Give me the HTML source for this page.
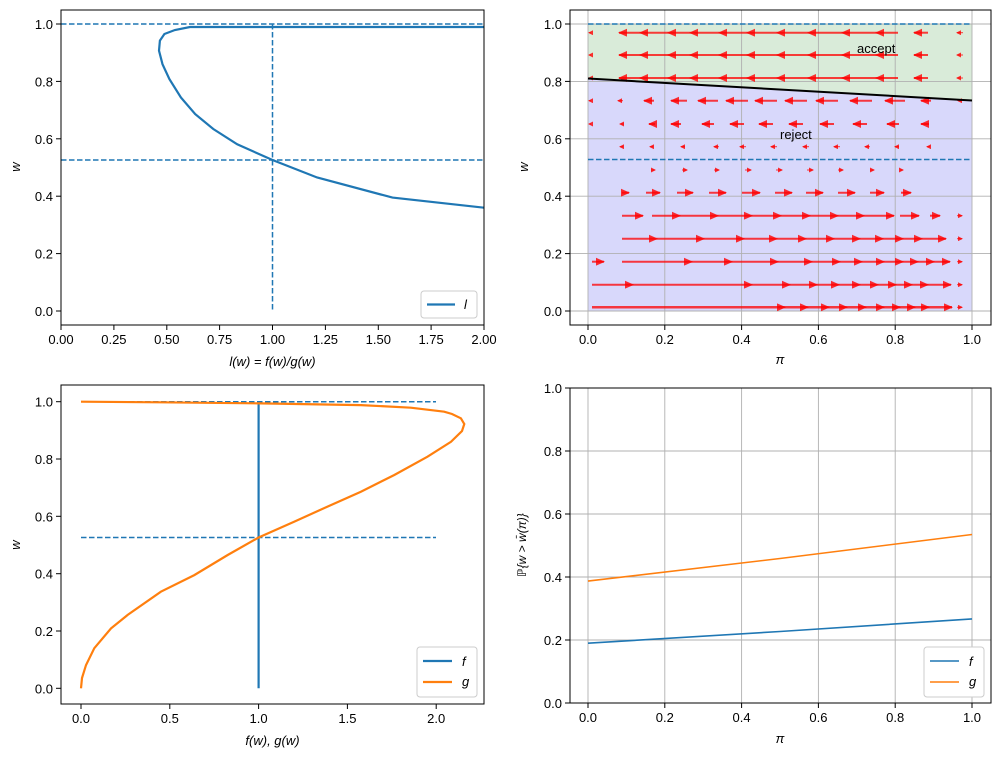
<!DOCTYPE html>
<html><head><meta charset="utf-8"><style>
body{margin:0;background:#fff}
svg{display:block;font-family:"Liberation Sans","DejaVu Sans",sans-serif;font-size:13px}
</style></head><body>
<svg width="1001" height="760" viewBox="0 0 1001 760" xmlns="http://www.w3.org/2000/svg">
<defs>
<marker id="h" markerUnits="userSpaceOnUse" markerWidth="9" markerHeight="8" refX="8" refY="4" orient="auto"><path d="M0,0 L9,4 L0,8 z" fill="rgba(255,0,0,0.8)"/></marker>
<marker id="hs" markerUnits="userSpaceOnUse" markerWidth="5" markerHeight="5" refX="4" refY="2.5" orient="auto"><path d="M0,0 L5,2.5 L0,5 z" fill="rgba(255,0,0,0.8)"/></marker>
<clipPath id="c1"><rect x="61" y="10" width="423" height="315"/></clipPath>
</defs>

<!-- ============ TOP LEFT ============ -->
<g clip-path="url(#c1)">
<line x1="61" y1="24" x2="484" y2="24" stroke="#1f77b4" stroke-width="1.5" stroke-dasharray="5.5,2.5"/>
<line x1="61" y1="160" x2="484" y2="160" stroke="#1f77b4" stroke-width="1.5" stroke-dasharray="5.5,2.5"/>
<line x1="272.5" y1="24" x2="272.5" y2="311" stroke="#1f77b4" stroke-width="1.5" stroke-dasharray="5.5,2.5"/>
<polyline fill="none" stroke="#1f77b4" stroke-width="2.2" points="484,207.7 392.5,197.6 317.1,177.5 272.5,160 237.2,144.3 213.3,129 195.2,114.1 180.9,97.5 169.4,79.1 162.5,64.2 159,50.7 159.9,40.6 164.4,34 174.9,30 190,27 484,27"/>
</g>
<rect x="61" y="10" width="423" height="315" fill="none" stroke="#000" stroke-width="1"/>
<g stroke="#000">
<line x1="61" y1="325" x2="61" y2="330"/><line x1="113.9" y1="325" x2="113.9" y2="330"/><line x1="166.8" y1="325" x2="166.8" y2="330"/><line x1="219.6" y1="325" x2="219.6" y2="330"/><line x1="272.5" y1="325" x2="272.5" y2="330"/><line x1="325.4" y1="325" x2="325.4" y2="330"/><line x1="378.3" y1="325" x2="378.3" y2="330"/><line x1="431.1" y1="325" x2="431.1" y2="330"/><line x1="484" y1="325" x2="484" y2="330"/>
<line x1="56" y1="311" x2="61" y2="311"/><line x1="56" y1="253.6" x2="61" y2="253.6"/><line x1="56" y1="196.2" x2="61" y2="196.2"/><line x1="56" y1="138.8" x2="61" y2="138.8"/><line x1="56" y1="81.4" x2="61" y2="81.4"/><line x1="56" y1="24" x2="61" y2="24"/>
</g>
<g text-anchor="middle">
<text x="61" y="344">0.00</text><text x="113.9" y="344">0.25</text><text x="166.8" y="344">0.50</text><text x="219.6" y="344">0.75</text><text x="272.5" y="344">1.00</text><text x="325.4" y="344">1.25</text><text x="378.3" y="344">1.50</text><text x="431.1" y="344">1.75</text><text x="484" y="344">2.00</text>
</g>
<g text-anchor="end">
<text x="53" y="316">0.0</text><text x="53" y="258.6">0.2</text><text x="53" y="201.2">0.4</text><text x="53" y="143.8">0.6</text><text x="53" y="86.4">0.8</text><text x="53" y="29">1.0</text>
</g>
<text x="272.5" y="366" text-anchor="middle" font-style="italic">l(w) = f(w)/g(w)</text>
<text x="20" y="167" text-anchor="middle" font-style="italic" transform="rotate(-90 20 167)">w</text>
<rect x="421" y="291" width="56" height="27" rx="3" fill="#fff" stroke="#ccc"/>
<line x1="427" y1="304.5" x2="455" y2="304.5" stroke="#1f77b4" stroke-width="2.2"/>
<text x="464" y="309" font-style="italic">l</text>

<!-- ============ TOP RIGHT ============ -->
<polygon points="588,24 972,24 972,100.5 588,79" fill="#d9ebd9"/>
<polygon points="588,79 972,100.5 972,311 588,311" fill="#d8d8fb"/>
<g stroke="#b0b0b0" stroke-width="0.9">
<line x1="588" y1="10" x2="588" y2="325"/><line x1="664.8" y1="10" x2="664.8" y2="325"/><line x1="741.6" y1="10" x2="741.6" y2="325"/><line x1="818.4" y1="10" x2="818.4" y2="325"/><line x1="895.2" y1="10" x2="895.2" y2="325"/><line x1="972" y1="10" x2="972" y2="325"/>
<line x1="570" y1="311" x2="991" y2="311"/><line x1="570" y1="253.6" x2="991" y2="253.6"/><line x1="570" y1="196.2" x2="991" y2="196.2"/><line x1="570" y1="138.8" x2="991" y2="138.8"/><line x1="570" y1="81.4" x2="991" y2="81.4"/><line x1="570" y1="24" x2="991" y2="24"/>
</g>
<line x1="588" y1="24" x2="972" y2="24" stroke="#1f77b4" stroke-width="1.5" stroke-dasharray="5.5,2.5"/>
<line x1="588" y1="159.5" x2="972" y2="159.5" stroke="#1f77b4" stroke-width="1.5" stroke-dasharray="5.5,2.5"/>
<g fill="none" stroke="rgba(255,0,0,0.75)" stroke-width="2" marker-mid="url(#h)" marker-end="url(#h)">
<path d="M898 32.7 L876 32.7 L842 32.7 L808 32.7 L777 32.7 L747 32.7 L719 32.7 L690 32.7 L668 32.7 L640 32.7 L619 32.7"/>
<path d="M928 32.7 L914 32.7"/>
<path d="M898 55 L876 55 L842 55 L808 55 L777 55 L747 55 L719 55 L690 55 L668 55 L640 55 L619 55"/>
<path d="M928 55 L914 55"/>
<path d="M898 78 L876 78 L842 78 L808 78 L777 78 L747 78 L719 78 L690 78 L668 78 L640 78 L619 78"/>
<path d="M928 78 L914 78"/>
<path d="M654 100.7 L644 100.7"/><path d="M687 100.7 L671 100.7"/><path d="M718 100.7 L698 100.7"/><path d="M748 100.7 L726 100.7"/><path d="M777 100.7 L755 100.7"/><path d="M807 100.7 L785 100.7"/><path d="M838 100.7 L816 100.7"/><path d="M872 100.7 L850 100.7"/><path d="M905 100.7 L885 100.7"/><path d="M931 100.7 L921 100.7"/>
<path d="M681 124 L671 124"/><path d="M714 124 L702 124"/><path d="M744 124 L730 124"/><path d="M773 124 L759 124"/><path d="M803 124 L789 124"/><path d="M834 124 L820 124"/><path d="M867 124 L853 124"/><path d="M899 124 L887 124"/><path d="M929 124 L921 124"/><path d="M655 124 L649 124"/>
<path d="M646 192.7 L660 192.7"/><path d="M677 192.7 L693 192.7"/><path d="M709 192.7 L726 192.7"/><path d="M742 192.7 L760 192.7"/><path d="M775 192.7 L792 192.7"/><path d="M806 192.7 L823 192.7"/><path d="M838 192.7 L855 192.7"/><path d="M870 192.7 L884 192.7"/><path d="M901 192.7 L911 192.7"/><path d="M622 192.7 L629 192.7"/>
<path d="M622 215.7 L643 215.7"/><path d="M652 215.7 L680 215.7 L718 215.7 L752 215.7 L781 215.7 L810 215.7 L838 215.7 L864 215.7 L894 215.7"/><path d="M900 215.7 L919 215.7"/><path d="M930 215.7 L940 215.7"/>
<path d="M622 238.7 L657 238.7 L704 238.7 L744 238.7 L777 238.7 L806 238.7 L834 238.7 L860 238.7 L883 238.7 L903 238.7 L922 238.7 L946 238.7"/>
<path d="M592 261.7 L604 261.7"/>
<path d="M622 261.7 L692 261.7 L732 261.7 L778 261.7 L812 261.7 L840 261.7 L862 261.7 L884 261.7 L903 261.7 L918 261.7 L934 261.7 L950 261.7"/>
<path d="M592 284.7 L633 284.7 L752 284.7 L790 284.7 L817 284.7 L839 284.7 L860 284.7 L878 284.7 L896 284.7 L912 284.7 L928 284.7 L951 284.7"/>
<path d="M592 307.3 L785 307.3 L808 307.3 L829 307.3 L847 307.3 L866 307.3 L884 307.3 L900 307.3 L915 307.3 L929 307.3 L952 307.3" stroke-width="2.5"/>
</g>
<g fill="none" stroke="rgba(255,0,0,0.75)" stroke-width="1" marker-end="url(#hs)">
<path d="M591 32.7 L589 32.7"/><path d="M963 32.7 L957 32.7"/><path d="M591 55 L589 55"/><path d="M963 55 L957 55"/><path d="M591 78 L589 78"/><path d="M963 78 L957 78"/>
<path d="M591 100.7 L589 100.7"/><path d="M623 100.7 L618 100.7"/><path d="M962 100.7 L958 100.7"/>
<path d="M591 124 L589 124"/><path d="M624 124 L620 124"/>
<path d="M623 146.7 L620 146.7"/><path d="M653 146.7 L650 146.7"/><path d="M685 146.7 L681 146.7"/><path d="M719 146.7 L714 146.7"/><path d="M746 146.7 L740 146.7"/><path d="M777 146.7 L771 146.7"/><path d="M809 146.7 L803 146.7"/><path d="M840 146.7 L834 146.7"/><path d="M870 146.7 L865 146.7"/><path d="M899 146.7 L895 146.7"/><path d="M930 146.7 L927 146.7"/>
<path d="M682 170 L687 170"/><path d="M714 170 L719 170"/><path d="M745 170 L751 170"/><path d="M776 170 L782 170"/><path d="M807 170 L813 170"/><path d="M838 170 L843 170"/><path d="M870 170 L874 170"/><path d="M900 170 L903 170"/><path d="M651 170 L655 170"/>
<path d="M957 215.7 L962 215.7"/><path d="M957 238.7 L962 238.7"/><path d="M957 261.7 L962 261.7"/><path d="M957 284.7 L962 284.7"/><path d="M957 307.3 L962 307.3"/>
</g>
<line x1="588" y1="78.5" x2="972" y2="100.5" stroke="#000" stroke-width="2"/>
<text x="857" y="53">accept</text>
<text x="780" y="139">reject</text>
<rect x="570" y="10" width="421" height="315" fill="none" stroke="#000" stroke-width="1"/>
<g stroke="#000">
<line x1="588" y1="325" x2="588" y2="330"/><line x1="664.8" y1="325" x2="664.8" y2="330"/><line x1="741.6" y1="325" x2="741.6" y2="330"/><line x1="818.4" y1="325" x2="818.4" y2="330"/><line x1="895.2" y1="325" x2="895.2" y2="330"/><line x1="972" y1="325" x2="972" y2="330"/>
<line x1="565" y1="311" x2="570" y2="311"/><line x1="565" y1="253.6" x2="570" y2="253.6"/><line x1="565" y1="196.2" x2="570" y2="196.2"/><line x1="565" y1="138.8" x2="570" y2="138.8"/><line x1="565" y1="81.4" x2="570" y2="81.4"/><line x1="565" y1="24" x2="570" y2="24"/>
</g>
<g text-anchor="middle">
<text x="588" y="344">0.0</text><text x="664.8" y="344">0.2</text><text x="741.6" y="344">0.4</text><text x="818.4" y="344">0.6</text><text x="895.2" y="344">0.8</text><text x="972" y="344">1.0</text>
</g>
<g text-anchor="end">
<text x="562" y="316">0.0</text><text x="562" y="258.6">0.2</text><text x="562" y="201.2">0.4</text><text x="562" y="143.8">0.6</text><text x="562" y="86.4">0.8</text><text x="562" y="29">1.0</text>
</g>
<text x="780" y="364" text-anchor="middle" font-style="italic">π</text>
<text x="528" y="167" text-anchor="middle" font-style="italic" transform="rotate(-90 528 167)">w</text>

<!-- ============ BOTTOM LEFT ============ -->
<line x1="81" y1="401.7" x2="436" y2="401.7" stroke="#1f77b4" stroke-width="1.5" stroke-dasharray="5.5,2.5"/>
<line x1="81" y1="537.5" x2="436" y2="537.5" stroke="#1f77b4" stroke-width="1.5" stroke-dasharray="5.5,2.5"/>
<line x1="258.6" y1="688.3" x2="258.6" y2="403.5" stroke="#1f77b4" stroke-width="2.2"/>
<polyline fill="none" stroke="#ff7f0e" stroke-width="2.2" points="81,688.3 82,678 86,665.1 94.3,648.2 111,628.4 127.7,614.9 160.9,591.7 194.3,575.1 227.7,555 258.6,537.5 294.1,521.8 327.5,506.6 360.9,491.7 394.3,475 427.5,456.7 451,441.8 462,431 464.3,424 460.9,418.3 452,414 444.2,411.7 410.8,407.7 360.9,405.1 260.9,403.4 160.9,402.3 81,401.7"/>
<rect x="61" y="385" width="423" height="319" fill="none" stroke="#000" stroke-width="1"/>
<g stroke="#000">
<line x1="81" y1="704" x2="81" y2="709"/><line x1="169.8" y1="704" x2="169.8" y2="709"/><line x1="258.6" y1="704" x2="258.6" y2="709"/><line x1="347.4" y1="704" x2="347.4" y2="709"/><line x1="436.2" y1="704" x2="436.2" y2="709"/>
<line x1="56" y1="688.3" x2="61" y2="688.3"/><line x1="56" y1="631" x2="61" y2="631"/><line x1="56" y1="573.7" x2="61" y2="573.7"/><line x1="56" y1="516.3" x2="61" y2="516.3"/><line x1="56" y1="459" x2="61" y2="459"/><line x1="56" y1="401.7" x2="61" y2="401.7"/>
</g>
<g text-anchor="middle">
<text x="81" y="723">0.0</text><text x="169.8" y="723">0.5</text><text x="258.6" y="723">1.0</text><text x="347.4" y="723">1.5</text><text x="436.2" y="723">2.0</text>
</g>
<g text-anchor="end">
<text x="53" y="693.3">0.0</text><text x="53" y="636">0.2</text><text x="53" y="578.7">0.4</text><text x="53" y="521.3">0.6</text><text x="53" y="464">0.8</text><text x="53" y="406.7">1.0</text>
</g>
<text x="272.5" y="745" text-anchor="middle" font-style="italic">f(w), g(w)</text>
<text x="20" y="545" text-anchor="middle" font-style="italic" transform="rotate(-90 20 545)">w</text>
<rect x="417" y="647" width="60" height="50" rx="3" fill="#fff" stroke="#ccc"/>
<line x1="423" y1="661" x2="452" y2="661" stroke="#1f77b4" stroke-width="2.2"/>
<text x="462" y="666" font-style="italic">f</text>
<line x1="423" y1="682" x2="452" y2="682" stroke="#ff7f0e" stroke-width="2.2"/>
<text x="462" y="686" font-style="italic">g</text>

<!-- ============ BOTTOM RIGHT ============ -->
<g stroke="#b0b0b0" stroke-width="0.9">
<line x1="588" y1="388" x2="588" y2="703"/><line x1="664.8" y1="388" x2="664.8" y2="703"/><line x1="741.6" y1="388" x2="741.6" y2="703"/><line x1="818.4" y1="388" x2="818.4" y2="703"/><line x1="895.2" y1="388" x2="895.2" y2="703"/><line x1="972" y1="388" x2="972" y2="703"/>
<line x1="570" y1="640" x2="991" y2="640"/><line x1="570" y1="577" x2="991" y2="577"/><line x1="570" y1="514" x2="991" y2="514"/><line x1="570" y1="451" x2="991" y2="451"/>
</g>
<polyline fill="none" stroke="#1f77b4" stroke-width="1.6" points="588,643.2 780,631.5 972,618.9"/>
<polyline fill="none" stroke="#ff7f0e" stroke-width="1.6" points="588,581.1 780,558.5 972,534.5"/>
<rect x="570" y="388" width="421" height="315" fill="none" stroke="#000" stroke-width="1"/>
<g stroke="#000">
<line x1="588" y1="703" x2="588" y2="708"/><line x1="664.8" y1="703" x2="664.8" y2="708"/><line x1="741.6" y1="703" x2="741.6" y2="708"/><line x1="818.4" y1="703" x2="818.4" y2="708"/><line x1="895.2" y1="703" x2="895.2" y2="708"/><line x1="972" y1="703" x2="972" y2="708"/>
<line x1="565" y1="703" x2="570" y2="703"/><line x1="565" y1="640" x2="570" y2="640"/><line x1="565" y1="577" x2="570" y2="577"/><line x1="565" y1="514" x2="570" y2="514"/><line x1="565" y1="451" x2="570" y2="451"/><line x1="565" y1="388" x2="570" y2="388"/>
</g>
<g text-anchor="middle">
<text x="588" y="722">0.0</text><text x="664.8" y="722">0.2</text><text x="741.6" y="722">0.4</text><text x="818.4" y="722">0.6</text><text x="895.2" y="722">0.8</text><text x="972" y="722">1.0</text>
</g>
<g text-anchor="end">
<text x="562" y="708">0.0</text><text x="562" y="645">0.2</text><text x="562" y="582">0.4</text><text x="562" y="519">0.6</text><text x="562" y="456">0.8</text><text x="562" y="393">1.0</text>
</g>
<text x="780" y="743" text-anchor="middle" font-style="italic">π</text>
<text x="526" y="545" text-anchor="middle" font-size="12" font-style="italic" transform="rotate(-90 526 545)">ℙ{w &gt; w̄(π)}</text>
<rect x="924" y="647" width="60" height="50" rx="3" fill="#fff" stroke="#ccc"/>
<line x1="930" y1="661" x2="959" y2="661" stroke="#1f77b4" stroke-width="1.6"/>
<text x="969" y="666" font-style="italic">f</text>
<line x1="930" y1="682" x2="959" y2="682" stroke="#ff7f0e" stroke-width="1.6"/>
<text x="969" y="686" font-style="italic">g</text>
</svg>
</body></html>
